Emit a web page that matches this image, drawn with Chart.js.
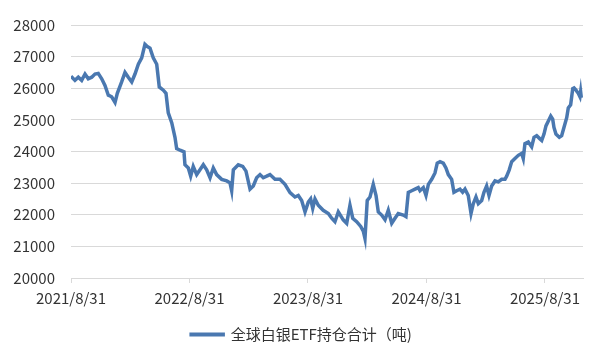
<!DOCTYPE html>
<html>
<head>
<meta charset="utf-8">
<script src="https://cdn.jsdelivr.net/npm/chart.js@4.4.1/dist/chart.umd.min.js"></script>
<style>
  html, body { margin: 0; padding: 0; background: #fff; }
  #wrap { width: 600px; height: 359px; position: relative; }
</style>
</head>
<body>
<div id="wrap"><canvas id="etfChart"></canvas></div>
<script>
// months since 2021/8/31
const months = [
  0, 0.4, 0.74, 1.08, 1.42, 1.75, 2.1, 2.43, 2.76, 3.11, 3.44, 3.78, 4.12, 4.46, 4.69,
  5.13, 5.47, 5.8, 6.15, 6.48, 6.82, 7.16, 7.49, 7.73, 8.0, 8.33, 8.68, 8.94, 9.35, 9.62,
  9.85, 10.2, 10.53, 10.7, 11.04, 11.44, 11.54, 11.88, 12.12, 12.38, 12.73, 13.06, 13.4, 13.74,
  14.08, 14.41, 14.75, 15.26, 15.77, 16.1, 16.27, 16.44, 16.94, 17.39, 17.72, 18.13, 18.46,
  18.8, 19.14, 19.47, 19.82, 20.15, 20.66, 21.16, 21.67, 22.18, 22.68, 23.02, 23.36, 23.7,
  24.03, 24.27, 24.48, 24.71, 25.04, 25.54, 26.06, 26.4, 26.73, 27.07, 27.57, 27.92, 28.25,
  28.53, 28.93, 29.34, 29.6, 29.77, 30.0, 30.28, 30.61, 30.89, 31.12, 31.46, 31.8, 32.13,
  32.48, 32.81, 33.14, 33.65, 33.92, 34.16, 34.5, 34.84, 35.17, 35.34, 35.68, 35.95, 36.19,
  36.53, 36.86, 37.09, 37.37, 37.7, 37.97, 38.21, 38.55, 38.78, 39.06, 39.39, 39.66, 39.9,
  40.23, 40.51, 40.74, 41.01, 41.25, 41.59, 41.82, 42.09, 42.33, 42.6, 42.94, 43.27, 43.61,
  43.95, 44.12, 44.38, 44.63, 44.96, 45.3, 45.64, 45.8, 45.97, 46.31, 46.65, 46.89, 47.16,
  47.49, 47.67, 47.9, 48.1, 48.33, 48.58, 48.78, 48.91, 49.11, 49.45, 49.69, 49.92, 50.2,
  50.36, 50.6, 50.81, 50.94, 51.14, 51.37, 51.54, 51.61, 51.68
];
// 全球白银ETF持仓合计（吨）
const holdings = [
  26380, 26250, 26350, 26250, 26450, 26300, 26350, 26450, 26470, 26300, 26090, 25780, 25730, 25550, 25840,
  26200, 26500, 26350, 26200, 26450, 26760, 26960, 27390, 27320, 27270, 26960, 26760, 26040, 25940, 25840,
  25220, 24910, 24450, 24090, 24040, 23990, 23580, 23480, 23220, 23530, 23270, 23420, 23580, 23420,
  23170, 23480, 23270, 23120, 23070, 23010, 22760, 23420, 23580, 23530, 23380, 22810, 22910,
  23170, 23270, 23170, 23220, 23270, 23120, 23120, 22960, 22700, 22560, 22610, 22450, 22090,
  22400, 22500, 22200, 22500, 22300, 22140, 22040, 21890, 21780, 22090, 21840, 21730, 22300,
  21890, 21780, 21630, 21480, 21250, 22450, 22560, 22960, 22610, 22090, 21990, 21840, 22140,
  21730, 21890, 22040, 21990, 21940, 22710, 22760, 22810, 22860, 22760, 22860, 22610, 22960,
  23120, 23320, 23630, 23680, 23630, 23480, 23270, 23120, 22710, 22760, 22810, 22710, 22810,
  22610, 22040, 22350, 22560, 22350, 22450, 22710, 22910, 22610, 22910, 23070, 23040, 23120,
  23120, 23220, 23420, 23680, 23780, 23880, 23940, 23780, 24250, 24300, 24150, 24450, 24500,
  24400, 24350, 24550, 24810, 24960, 25120, 25020, 24760, 24550, 24450, 24500, 24760, 25070,
  25380, 25480, 25990, 26010, 25940, 25840, 25730, 25890, 25700
];
const xTickMonths = [0, 12, 24, 36, 48];
const xTickLabels = ['2021/8/31', '2022/8/31', '2023/8/31', '2024/8/31', '2025/8/31'];
const yTicks = [20000, 21000, 22000, 23000, 24000, 25000, 26000, 27000, 28000];

const points = months.map((m, i) => ({ x: m, y: holdings[i] }));
const fontFamily = '"Noto Sans CJK SC", "Noto Sans", sans-serif';
const gridColor = '#d9d9d9';
const textColor = '#333333';

// nudge the legend so it sits centred under the whole picture
const legendShift = {
  id: 'legendShift',
  afterLayout(chart) {
    const lg = chart.legend;
    if (lg) { lg.left += 10; lg.right += 10; }
  }
};

const ctx = document.getElementById('etfChart').getContext('2d');
new Chart(ctx, {
  type: 'line',
  data: {
    datasets: [{
      label: '全球白银ETF持仓合计（吨)',
      data: points,
      borderColor: '#4a78b0',
      backgroundColor: '#4a78b0',
      borderWidth: 3.5,
      pointRadius: 0,
      tension: 0,
      fill: false
    }]
  },
  options: {
    responsive: true,
    maintainAspectRatio: false,
    animation: false,
    layout: { padding: { top: 14, right: 17, left: 0, bottom: 7 } },
    plugins: {
      tooltip: { enabled: false },
      legend: {
        position: 'bottom',
        labels: {
          boxWidth: 32,
          boxHeight: 0.5,
          padding: 8,
          color: textColor,
          font: { family: fontFamily, size: 15 }
        }
      }
    },
    scales: {
      x: {
        type: 'linear',
        min: 0,
        max: 51.85,
        afterBuildTicks: scale => { scale.ticks = xTickMonths.map(v => ({ value: v })); },
        afterFit: scale => { scale.height += 6; },
        ticks: {
          padding: 6,
          maxRotation: 0,
          autoSkip: false,
          color: textColor,
          font: { family: fontFamily, size: 15 },
          callback: v => xTickLabels[xTickMonths.indexOf(v)]
        },
        grid: { drawOnChartArea: false, drawTicks: true, tickLength: 5, color: gridColor },
        border: { color: gridColor, width: 1 }
      },
      y: {
        min: 20000,
        max: 28000,
        afterFit: scale => { scale.width = 71; },
        afterBuildTicks: scale => { scale.ticks = yTicks.map(v => ({ value: v })); },
        ticks: {
          padding: 16,
          color: textColor,
          font: { family: fontFamily, size: 15 },
          callback: v => String(v)
        },
        grid: { drawTicks: false, color: gridColor },
        border: { display: false }
      }
    }
  },
  plugins: [legendShift]
});
</script>
</body>
</html>
